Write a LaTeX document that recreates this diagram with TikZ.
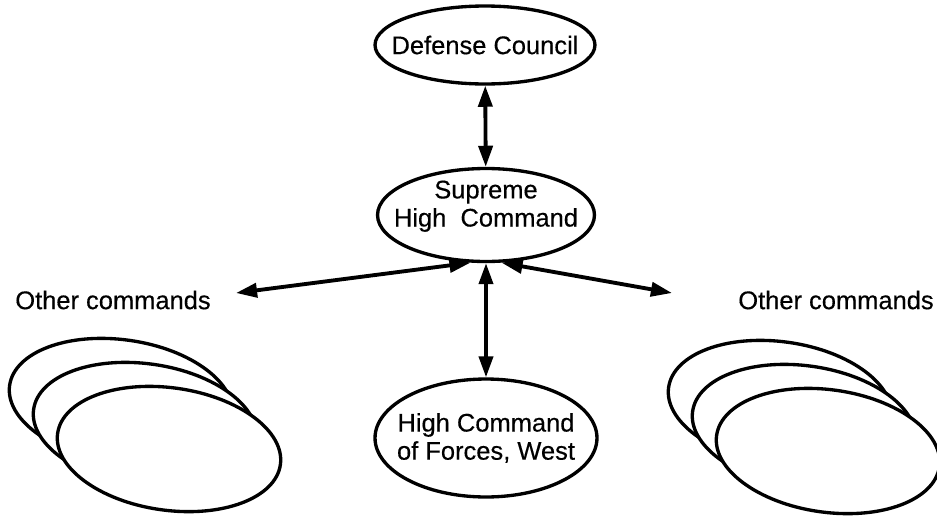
\documentclass[tikz,border=0pt]{standalone}
\usepackage{fontspec}
\setmainfont[FakeBold=0.35]{Liberation Sans}
\usetikzlibrary{arrows.meta,shapes.geometric}
\tikzset{oval/.style={draw=black,ellipse,line width=1.9pt,fill=white,inner sep=0pt},
 arr/.style={{Triangle[length=12pt,width=8pt]}-{Triangle[length=12pt,width=8pt]},line width=2.2pt},
 note/.style={font=\fontsize{14.5}{16}\selectfont,align=center}}

\begin{document}
\begin{tikzpicture}[x=0.02cm,y=-0.02cm]
\useasboundingbox (0,0) rectangle (937,521);
\node[oval,minimum width=4.4cm,minimum height=1.56cm] (dc) at (485,45) {};
\node[note] (dctext) at (dc) {Defense Council};
\node[oval,minimum width=4.34cm,minimum height=1.86cm] (shc) at (486,215) {};
\node[note] (shctext) at ([yshift=5pt]shc.center) {Supreme\\High~~Command};
\node[oval,minimum width=4.44cm,minimum height=2.36cm] (west) at (486,438) {};
\node[note] (westtext) at (west) {High Command\\of Forces, West};
% stacks of other commands
\foreach \i/\d in {back/0,mid/24,front/48}{
 \node[oval,rotate=-8,minimum width=4.5cm,minimum height=2.45cm] (l\i) at (121+\d,401+\d) {};
 \node[oval,rotate=-8,minimum width=4.5cm,minimum height=2.45cm] (r\i) at (780+\d,403+\d) {};
}
\node[note] (lnote) at (113,300) {Other commands};
\node[note] (rnote) at (836,300) {Other commands};
\coordinate (ltip) at (236,293);
\coordinate (rtip) at (672,293);
\draw[arr] (dc) -- (shc);
\draw[arr] (shc.south) -- (west.north);
\draw[arr] (shc.252) -- (ltip);
\draw[arr] (shc.288) -- (rtip);
\end{tikzpicture}
\end{document}
